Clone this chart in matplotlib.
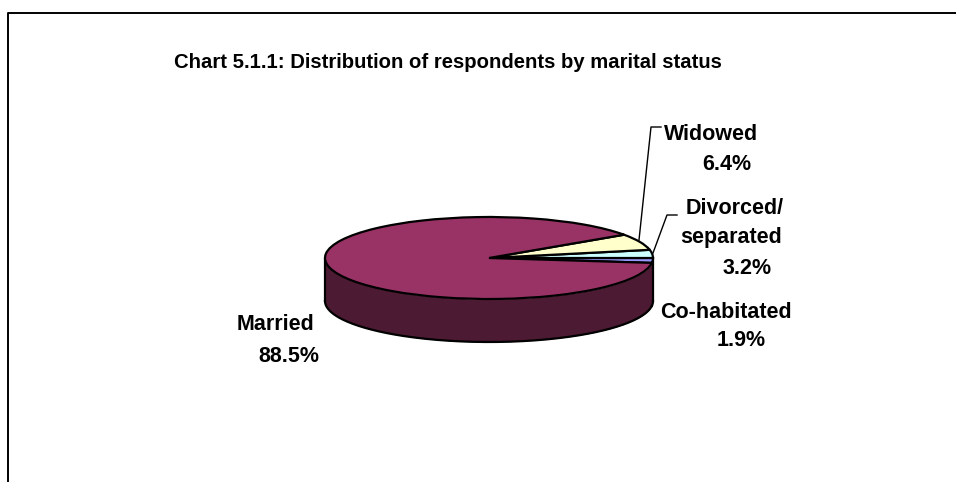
#! /usr/bin/env python
import numpy as np
import matplotlib
matplotlib.use('Agg')
import matplotlib.pyplot as plt

plt.rcParams['font.family'] = ['Liberation Sans', 'DejaVu Sans']

# counter clockwise from the start of the smallest slice
categories = ['Co-habitated', 'Divorced/\nseparated', 'Widowed', 'Married']
values = [1.9, 3.2, 6.4, 88.5]
top_colors = ['#9999FF', '#CCFFFF', '#FFFFCC', '#993366']
side_colors = ['#4D4D80', '#668080', '#808066', '#4D1A33']

W, H = 956, 482
cx, cy = 489, 258    # pie centre, pixels from top left
rx, ry = 164, 41
depth = 43

fig = plt.figure(figsize=(W / 100, H / 100), dpi=100)
ax = fig.add_axes([0, 0, 1, 1])

# overlay in pixel coords for frame and text
ax_bg = fig.add_axes([0, 0, 1, 1], zorder=5)
ax_bg.set_xlim(0, W)
ax_bg.set_ylim(H, 0)
ax_bg.axis('off')
# frame of the chart, only top and left are in the crop
ax_bg.plot([8.5, 8.5, W], [H, 12.5, 12.5], color='black', lw=1.4)

# side of the pie, in the squashed unit circle of the pie axes
start = -3.6 * values[0]
d = depth / ry
edges = start + np.cumsum([0] + values) * 3.6
for i in range(len(values)):
    a0, a1 = edges[i], edges[i + 1]
    if a1 > 180:    # married wraps round under the pie
        a0, a1 = a0 - 360, a1 - 360
    a0, a1 = max(a0, -180), min(a1, 0)
    if a1 <= a0:
        continue
    t = np.radians(np.linspace(a0, a1, 200))
    x = np.cos(t)
    y = np.sin(t)
    ax.fill_between(x, y - d, y, color=side_colors[i], lw=0, zorder=1)
    ax.plot(x, y - d, color='black', lw=1.6, zorder=2)

ax.plot([-1, -1], [0, -d], color='black', lw=1.6, zorder=2)
ax.plot([1, 1], [0, -d], color='black', lw=1.6, zorder=2)

wedges, _ = ax.pie(values, colors=top_colors, startangle=start, counterclock=True,
                   wedgeprops={'edgecolor': 'black', 'linewidth': 1.6, 'zorder': 3})
ax.set_aspect('auto')
ax.set_xlim((0 - cx) / rx, (W - cx) / rx)
ax.set_ylim((cy - H) / ry, cy / ry)
ax.axis('off')

# title and labels
ax_bg.text(448, 63, 'Chart 5.1.1: Distribution of respondents by marital status',
           fontsize=14.6, fontweight='bold', ha='center', va='center')

label_style = dict(fontsize=15.5, fontweight='bold', ha='center', va='center')
ax_bg.text(711, 135, 'Widowed', **label_style)
ax_bg.text(727, 165, '6.4%', **label_style)
ax_bg.text(735, 209, 'Divorced/', **label_style)
ax_bg.text(731, 238, 'separated', **label_style)
ax_bg.text(747, 269, '3.2%', **label_style)
ax_bg.text(726, 313, 'Co-habitated', **label_style)
ax_bg.text(741, 341, '1.9%', **label_style)
ax_bg.text(276, 325, 'Married', **label_style)
ax_bg.text(289, 357, '88.5%', **label_style)

# leader lines
ax_bg.plot([639, 651, 661], [240, 127, 127], color='black', lw=1)
ax_bg.plot([653, 667, 677], [253, 215, 215], color='black', lw=1)

fig.savefig('out.png', dpi=100, facecolor='white')
